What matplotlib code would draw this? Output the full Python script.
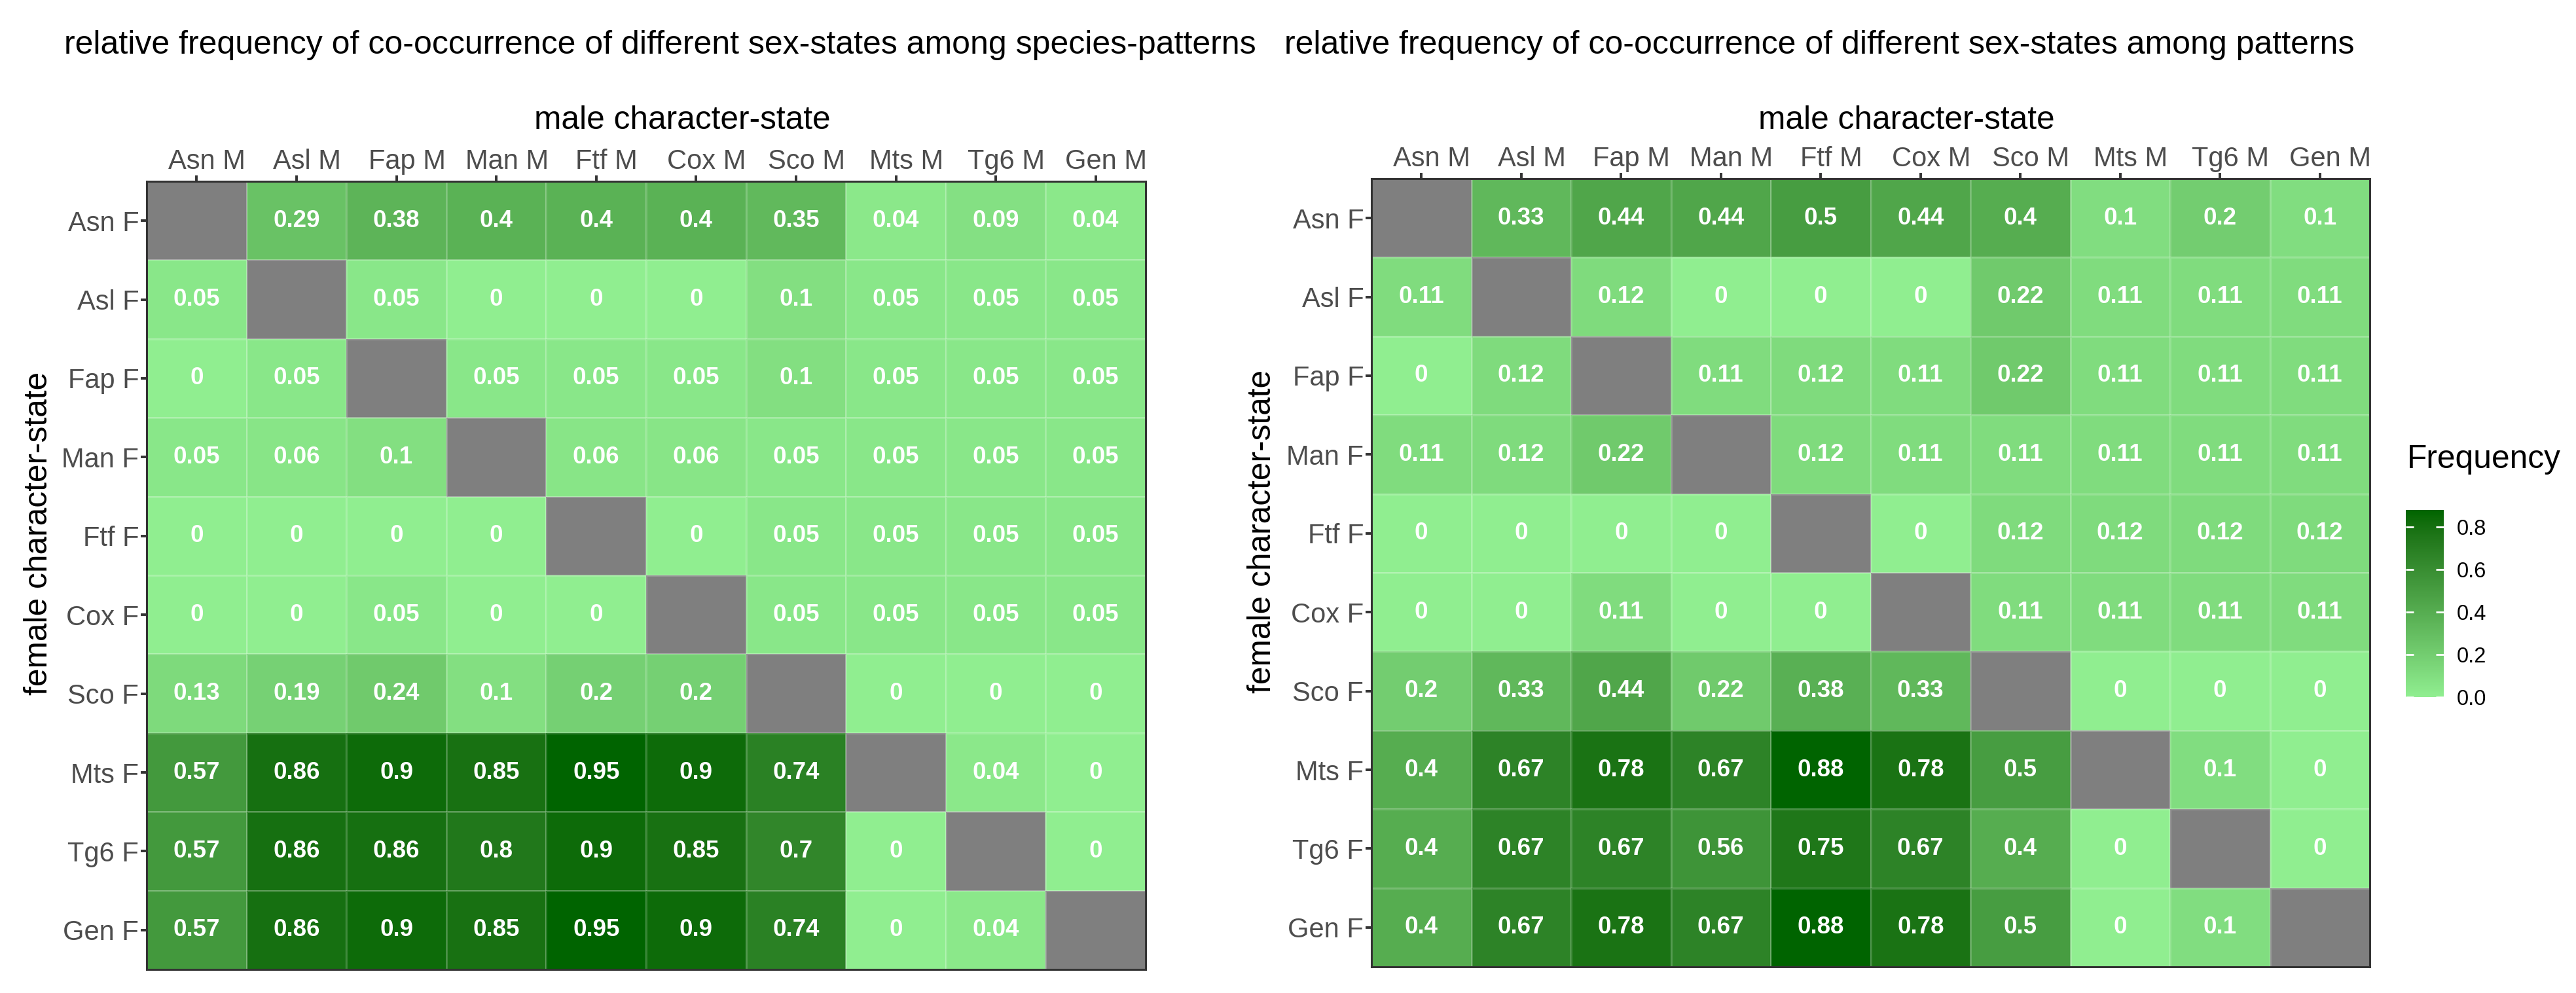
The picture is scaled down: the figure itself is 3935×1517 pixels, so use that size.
import numpy as np
import matplotlib
matplotlib.use("Agg")
import matplotlib.pyplot as plt
import matplotlib.transforms as mtransforms
from matplotlib.colors import ListedColormap, Normalize

plt.rcParams['font.family'] = ['Liberation Sans', 'DejaVu Sans']

# ---------------- data ----------------
male_labels = ["Asn M", "Asl M", "Fap M", "Man M", "Ftf M", "Cox M", "Sco M", "Mts M", "Tg6 M", "Gen M"]
female_labels = ["Asn F", "Asl F", "Fap F", "Man F", "Ftf F", "Cox F", "Sco F", "Mts F", "Tg6 F", "Gen F"]
NA = np.nan

species_freq = [
    [NA, 0.29, 0.38, 0.4, 0.4, 0.4, 0.35, 0.04, 0.09, 0.04],
    [0.05, NA, 0.05, 0, 0, 0, 0.1, 0.05, 0.05, 0.05],
    [0, 0.05, NA, 0.05, 0.05, 0.05, 0.1, 0.05, 0.05, 0.05],
    [0.05, 0.06, 0.1, NA, 0.06, 0.06, 0.05, 0.05, 0.05, 0.05],
    [0, 0, 0, 0, NA, 0, 0.05, 0.05, 0.05, 0.05],
    [0, 0, 0.05, 0, 0, NA, 0.05, 0.05, 0.05, 0.05],
    [0.13, 0.19, 0.24, 0.1, 0.2, 0.2, NA, 0, 0, 0],
    [0.57, 0.86, 0.9, 0.85, 0.95, 0.9, 0.74, NA, 0.04, 0],
    [0.57, 0.86, 0.86, 0.8, 0.9, 0.85, 0.7, 0, NA, 0],
    [0.57, 0.86, 0.9, 0.85, 0.95, 0.9, 0.74, 0, 0.04, NA],
]

pattern_freq = [
    [NA, 0.33, 0.44, 0.44, 0.5, 0.44, 0.4, 0.1, 0.2, 0.1],
    [0.11, NA, 0.12, 0, 0, 0, 0.22, 0.11, 0.11, 0.11],
    [0, 0.12, NA, 0.11, 0.12, 0.11, 0.22, 0.11, 0.11, 0.11],
    [0.11, 0.12, 0.22, NA, 0.12, 0.11, 0.11, 0.11, 0.11, 0.11],
    [0, 0, 0, 0, NA, 0, 0.12, 0.12, 0.12, 0.12],
    [0, 0, 0.11, 0, 0, NA, 0.11, 0.11, 0.11, 0.11],
    [0.2, 0.33, 0.44, 0.22, 0.38, 0.33, NA, 0, 0, 0],
    [0.4, 0.67, 0.78, 0.67, 0.88, 0.78, 0.5, NA, 0.1, 0],
    [0.4, 0.67, 0.67, 0.56, 0.75, 0.67, 0.4, 0, NA, 0],
    [0.4, 0.67, 0.78, 0.67, 0.88, 0.78, 0.5, 0, 0.1, NA],
]

legend_ticks = [0.0, 0.2, 0.4, 0.6, 0.8]

title_left = "relative frequency of co-occurrence of different sex-states among species-patterns"
title_right = "relative frequency of co-occurrence of different sex-states among patterns"

# ---------------- colour ramp (CIELAB, like ggplot2) ----------------
WHITE = np.array([0.95047, 1.0, 1.08883])
M = np.array([[0.4124564, 0.3575761, 0.1804375],
              [0.2126729, 0.7151522, 0.0721750],
              [0.0193339, 0.1191920, 0.9503041]])
Minv = np.linalg.inv(M)

def _f(t):
    d = 6 / 29
    return np.where(t > d ** 3, np.cbrt(t), t / (3 * d * d) + 4 / 29)

def _finv(t):
    d = 6 / 29
    return np.where(t > d, t ** 3, 3 * d * d * (t - 4 / 29))

def rgb2lab(rgb):
    c = np.asarray(rgb, float)
    lin = np.where(c <= 0.04045, c / 12.92, ((c + 0.055) / 1.055) ** 2.4)
    xyz = M @ lin / WHITE
    fx_, fy_, fz_ = _f(xyz)
    return np.array([116 * fy_ - 16, 500 * (fx_ - fy_), 200 * (fy_ - fz_)])

def lab2rgb(lab):
    L, a, b = lab
    fy_ = (L + 16) / 116
    fx_ = fy_ + a / 500
    fz_ = fy_ - b / 200
    xyz = np.array([_finv(fx_), _finv(fy_), _finv(fz_)]) * WHITE
    lin = Minv @ xyz
    lin = np.clip(lin, 0, 1)
    c = np.where(lin <= 0.0031308, 12.92 * lin, 1.055 * lin ** (1 / 2.4) - 0.055)
    return np.clip(c, 0, 1)

low = np.array([144, 238, 144]) / 255.0   # lightgreen
high = np.array([0, 100, 0]) / 255.0      # darkgreen
lab_lo, lab_hi = rgb2lab(low), rgb2lab(high)
ramp = [lab2rgb(lab_lo + (lab_hi - lab_lo) * t) for t in np.linspace(0, 1, 256)]
cmap = ListedColormap(ramp)
cmap.set_bad('#7F7F7F')

# ---------------- figure ----------------
W, H = 3935, 1517
fig = plt.figure(figsize=(W / 100, H / 100), dpi=100)

def fx(x):
    return x / W

def fy(y):
    return 1 - y / H

def add_rect_axes(x0, y0, x1, y1):
    return fig.add_axes([fx(x0), fy(y1), fx(x1) - fx(x0), fy(y0) - fy(y1)])

TICK_COLOR = '#4D4D4D'

def draw_heatmap(ax, data):
    arr = np.ma.masked_invalid(np.array(data, dtype=float))
    vmax = np.nanmax(np.array(data, dtype=float))
    norm = Normalize(vmin=0, vmax=vmax)
    mesh = ax.pcolormesh(np.arange(len(male_labels) + 1) - 0.5,
                         np.arange(len(female_labels) + 1) - 0.5,
                         arr, cmap=cmap, norm=norm,
                         edgecolors=(1, 1, 1, 0.18), linewidth=0.8)
    ax.set_xlim(-0.5, len(male_labels) - 0.5)
    ax.set_ylim(len(female_labels) - 0.5, -0.5)
    for i in range(len(female_labels)):
        for j in range(len(male_labels)):
            v = data[i][j]
            if v is None or (isinstance(v, float) and np.isnan(v)):
                continue
            ax.text(j, i, '{:g}'.format(v), ha='center', va='center',
                    color='white', fontsize=26.5, fontweight='bold')
    ax.set_xticks(range(len(male_labels)))
    ax.set_xticklabels(male_labels)
    ax.set_yticks(range(len(female_labels)))
    ax.set_yticklabels(female_labels)
    ax.xaxis.tick_top()
    ax.tick_params(axis='x', which='both', length=6.5, width=2.8, color='#333333',
                   labelsize=30, labelcolor=TICK_COLOR, pad=1)
    ax.tick_params(axis='y', which='both', length=6.5, width=2.8, color='#333333',
                   labelsize=30, labelcolor=TICK_COLOR, pad=2)
    shift = mtransforms.ScaledTranslation(0.16, 0, fig.dpi_scale_trans)
    for lab in ax.get_xticklabels():
        lab.set_transform(lab.get_transform() + shift)
    for s in ax.spines.values():
        s.set_linewidth(2.2)
        s.set_color('#333333')
    return mesh

ax1 = add_rect_axes(224, 277, 1750, 1481)
draw_heatmap(ax1, species_freq)
ax2 = add_rect_axes(2095, 273, 3620, 1477)
mesh2 = draw_heatmap(ax2, pattern_freq)

# titles
fig.text(fx(98), fy(82), title_left, ha='left', va='baseline', fontsize=36, color='black')
fig.text(fx(1962), fy(82), title_right, ha='left', va='baseline', fontsize=36, color='black')

# axis titles
fig.text(fx(1042), fy(197), "male character-state", ha='center', va='baseline', fontsize=35.7)
fig.text(fx(2912), fy(197), "male character-state", ha='center', va='baseline', fontsize=35.7)
fig.text(fx(59), fy(815), "female character-state", ha='center', va='center',
         rotation=90, fontsize=35.7)
fig.text(fx(1928), fy(812), "female character-state", ha='center', va='center',
         rotation=90, fontsize=35.7)

# legend
fig.text(fx(3677), fy(715), "Frequency", ha='left', va='baseline', fontsize=35.7)
cax = add_rect_axes(3675, 779, 3733, 1065)
cb = fig.colorbar(mesh2, cax=cax)
cb.outline.set_visible(False)
cb.set_ticks(legend_ticks)
cb.set_ticklabels(['{:.1f}'.format(t) for t in legend_ticks])
cax.tick_params(axis='y', direction='in', length=8.5, width=2, color='white',
                labelsize=23.5, labelcolor='black', pad=14, left=True, right=True)

fig.savefig("out.png", dpi=100)
